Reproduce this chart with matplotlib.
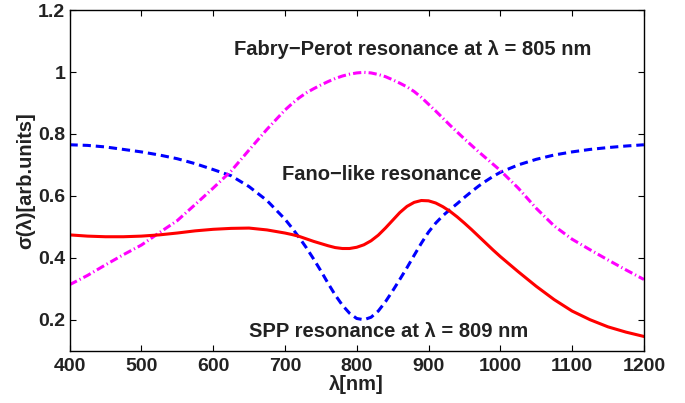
"""Scattering spectra: Fano-like, Fabry-Perot and SPP resonances."""
import numpy as np
import matplotlib
matplotlib.use("Agg")
import matplotlib.pyplot as plt
from matplotlib.ticker import FuncFormatter

# coarse steps on the flat wings, 10 nm steps across the resonances
wavelength = [400, 425, 450, 475, 500, 525, 550, 575, 600, 625, 650, 675,
              700, 710, 720, 730, 740, 750, 760, 770, 780, 790,
              800, 810, 820, 830, 840, 850, 860, 870, 880, 890,
              900, 910, 920, 930, 940, 950, 960, 970, 980, 990,
              1000, 1025, 1050, 1075, 1100, 1125, 1150, 1175, 1200]

fano = [0.765, 0.763, 0.758, 0.750, 0.742, 0.732, 0.720, 0.704, 0.685, 0.665,
        0.630, 0.585,
        0.525, 0.496, 0.465, 0.432, 0.396, 0.358, 0.318, 0.280, 0.247, 0.221,
        0.204, 0.200, 0.208, 0.228, 0.258, 0.293, 0.330, 0.368, 0.408, 0.447,
        0.483, 0.512, 0.536, 0.556, 0.575, 0.595, 0.614, 0.632, 0.648, 0.663,
        0.676, 0.700, 0.718, 0.732, 0.742, 0.750, 0.756, 0.761, 0.765]

fabry_perot = [0.313, 0.343, 0.377, 0.410, 0.441, 0.481, 0.520, 0.572, 0.625,
               0.680, 0.748, 0.815,
               0.877, 0.898, 0.917, 0.933, 0.946, 0.958, 0.969, 0.979, 0.987,
               0.993,
               0.997, 0.999, 0.997, 0.992, 0.985, 0.975, 0.964, 0.952, 0.937,
               0.918,
               0.896, 0.874, 0.851, 0.828, 0.806, 0.784, 0.763, 0.742, 0.722,
               0.702,
               0.682, 0.625, 0.560, 0.503, 0.460, 0.426, 0.393, 0.361, 0.330]

spp = [0.474, 0.470, 0.468, 0.468, 0.470, 0.474, 0.480, 0.487, 0.492, 0.495,
       0.496, 0.490,
       0.480, 0.475, 0.469, 0.461, 0.453, 0.446, 0.439, 0.433, 0.430, 0.430,
       0.434, 0.442, 0.455, 0.473, 0.496, 0.521, 0.546, 0.566, 0.579, 0.585,
       0.584, 0.577, 0.565, 0.550, 0.532, 0.512, 0.491, 0.469, 0.447, 0.425,
       0.404, 0.355, 0.308, 0.265, 0.228, 0.200, 0.177, 0.160, 0.146]

plt.rcParams["font.family"] = ["Liberation Sans", "DejaVu Sans"]
plt.rcParams["font.weight"] = "bold"

fig = plt.figure(figsize=(6.85, 4.03), dpi=100)
ax = fig.add_axes([0.1015, 0.1298, 0.8385, 0.8452])

ax.plot(wavelength, fano, color="#0000ff", lw=2.2, linestyle=(0, (2.7, 1.6)))
ax.plot(wavelength, fabry_perot, color="#ff00ff", lw=2.2,
        linestyle=(0, (2.7, 1.0, 0.4, 1.0)))
ax.plot(wavelength, spp, color="#ff0000", lw=2.2)

ax.set_xlim(400, 1200)
ax.set_ylim(0.1, 1.2)
ax.set_xticks(np.arange(400, 1201, 100))
ax.set_yticks([0.2, 0.4, 0.6, 0.8, 1.0, 1.2])
ax.yaxis.set_major_formatter(FuncFormatter(lambda v, p: f"{v:g}"))
ax.tick_params(direction="in", top=True, right=True, length=4, width=0.8,
               labelsize=14, pad=3)
ax.tick_params(axis="x", pad=5)
for lab in ax.get_xticklabels() + ax.get_yticklabels():
    lab.set_fontweight("bold")
    lab.set_color("#222222")
for s in ax.spines.values():
    s.set_linewidth(1.0)

ax.set_xlabel("λ[nm]", fontsize=14.5, fontweight="bold", labelpad=0,
              color="#222222")
ax.set_ylabel("σ(λ)[arb.units]", fontsize=14.5, fontweight="bold", labelpad=2,
              color="#222222")

ax.text(878, 1.074, "Fabry\u2212Perot resonance at λ = 805 nm", ha="center",
        va="center", fontsize=14.5, fontweight="bold", color="#222222")
ax.text(835, 0.668, "Fano\u2212like resonance", ha="center", va="center",
        fontsize=14.5, fontweight="bold", color="#222222")
ax.text(844, 0.162, "SPP resonance at λ = 809 nm", ha="center", va="center",
        fontsize=14.5, fontweight="bold", color="#222222")

plt.savefig("out.png", dpi=100)
plt.close()
